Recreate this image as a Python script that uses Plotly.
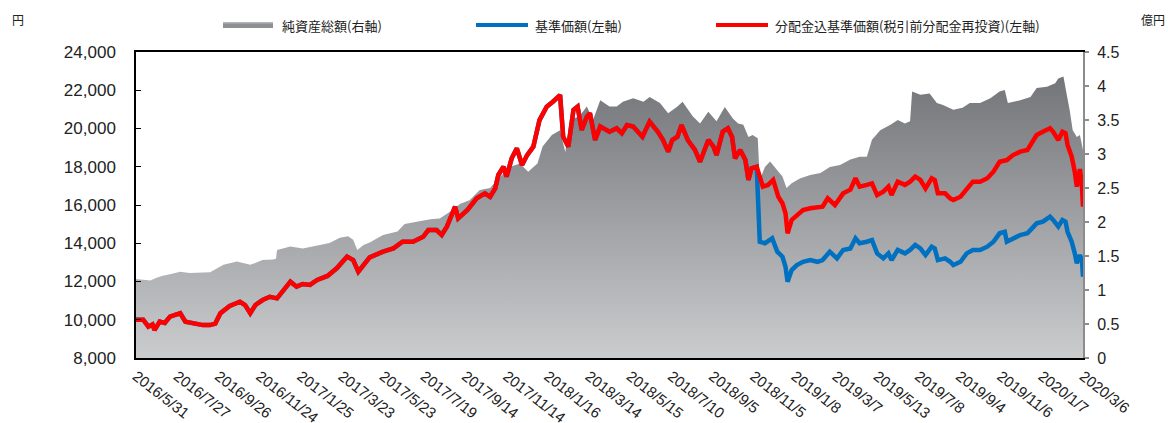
import plotly.graph_objects as go

# ---- data (x = business-day index from 2016/5/31) ----
tick_labels = ["2016/5/31", "2016/7/27", "2016/9/26", "2016/11/24", "2017/1/25", "2017/3/23",
               "2017/5/23", "2017/7/19", "2017/9/14", "2017/11/14", "2018/1/16", "2018/3/14",
               "2018/5/15", "2018/7/10", "2018/9/5", "2018/11/5", "2019/1/8", "2019/3/7",
               "2019/5/13", "2019/7/8", "2019/9/4", "2019/11/6", "2020/1/7", "2020/3/6"]
label_step = 40
minor_tick_step = 30
last_day = 920

# 純資産総額 (億円, right axis)
nav_day = [0, 7, 14, 20, 26, 33, 43, 52, 59, 72, 85, 98, 111, 123, 133, 136, 137, 150, 162, 176,
           188, 198, 206, 211, 215, 221, 227, 240, 254, 261, 273, 286, 295, 305, 315, 324, 334,
           344, 354, 363, 373, 381, 390, 395, 404, 412, 417, 422, 431, 438, 444, 451, 460, 467,
           473, 483, 493, 499, 509, 517, 526, 531, 541, 548, 556, 564, 572, 580, 585, 590, 595,
           599, 604, 606, 611, 616, 623, 628, 632, 637, 645, 655, 665, 674, 684, 694, 703, 710,
           715, 723, 733, 740, 747, 752, 754, 762, 771, 778, 784, 794, 803, 810, 820, 830, 839,
           844, 847, 859, 869, 875, 885, 893, 896, 901, 904, 907, 910, 914, 917, 920]
nav_value = [1.16, 1.15, 1.14, 1.18, 1.21, 1.23, 1.27, 1.25, 1.25, 1.26, 1.37, 1.42, 1.37, 1.44,
             1.45, 1.46, 1.59, 1.64, 1.61, 1.65, 1.69, 1.77, 1.79, 1.74, 1.59, 1.66, 1.70, 1.81,
             1.86, 1.97, 2.00, 2.04, 2.05, 2.15, 2.27, 2.32, 2.47, 2.50, 2.67, 2.81, 2.86, 2.74,
             2.86, 3.11, 3.28, 3.35, 3.03, 3.50, 3.56, 3.70, 3.50, 3.79, 3.70, 3.70, 3.77, 3.82,
             3.77, 3.84, 3.75, 3.60, 3.70, 3.77, 3.55, 3.45, 3.62, 3.48, 3.69, 3.52, 3.45, 3.43,
             3.25, 3.28, 3.23, 2.62, 2.81, 2.89, 2.76, 2.67, 2.50, 2.57, 2.64, 2.69, 2.72, 2.81,
             2.84, 2.92, 2.96, 2.96, 3.21, 3.35, 3.43, 3.50, 3.45, 3.48, 3.92, 3.87, 3.89, 3.75,
             3.72, 3.65, 3.68, 3.75, 3.75, 3.82, 3.92, 3.94, 3.75, 3.79, 3.84, 3.97, 3.99, 4.04,
             4.11, 4.14, 3.89, 3.65, 3.35, 3.25, 3.28, 3.06]

# 分配金込基準価額 (円, left axis)
reinv_day = [0, 7, 12, 16, 18, 23, 28, 33, 38, 43, 48, 52, 59, 65, 72, 77, 82, 91, 101, 106, 111,
             116, 123, 130, 137, 150, 156, 162, 169, 176, 186, 195, 205, 211, 216, 221, 227, 240,
             250, 259, 269, 279, 284, 292, 297, 302, 310, 313, 322, 331, 339, 344, 349, 352, 357,
             360, 365, 370, 375, 380, 386, 392, 399, 405, 412, 415, 420, 425, 429, 433, 438, 441,
             446, 451, 460, 467, 472, 477, 483, 492, 499, 507, 512, 517, 521, 526, 530, 536, 543,
             548, 553, 556, 561, 564, 570, 575, 579, 582, 587, 592, 595, 598, 603, 606, 609, 614,
             619, 624, 628, 631, 633, 637, 642, 648, 655, 662, 667, 672, 679, 687, 694, 699, 703,
             710, 715, 720, 726, 731, 734, 740, 747, 752, 757, 762, 767, 773, 776, 779, 786, 791,
             794, 801, 807, 813, 820, 827, 833, 839, 846, 852, 859, 866, 870, 875, 881, 888, 891,
             896, 900, 903, 905, 909, 912, 914, 917, 919, 920]
reinv_value = [10000, 10000, 9640, 9750, 9460, 9900, 9830, 10160, 10250, 10340, 9900, 9850, 9810,
               9720, 9720, 9800, 10340, 10720, 10940, 10770, 10340, 10770, 11030, 11200, 11120,
               11990, 11730, 11870, 11820, 12080, 12290, 12690, 13300, 13120, 12510, 12860, 13260,
               13560, 13730, 14080, 14080, 14340, 14690, 14690, 14430, 14870, 15910, 15300, 15740,
               16350, 16610, 16430, 16870, 17570, 18000, 17480, 18440, 18960, 18090, 18610, 19050,
               20440, 21140, 21400, 21750, 19570, 19050, 20970, 21140, 19920, 20620, 20800, 19400,
               20100, 19830, 20010, 19750, 20180, 20100, 19570, 20360, 19830, 19400, 18790, 19400,
               19570, 20180, 19400, 18880, 18260, 18960, 19400, 19050, 18610, 19830, 20010, 19570,
               18440, 18880, 18350, 17310, 17920, 18000, 17400, 16960, 17050, 17310, 16430, 16090,
               15570, 14520, 15220, 15480, 15740, 15830, 15910, 15910, 16350, 16000, 16610, 16800,
               17400, 16960, 17050, 17130, 16520, 16700, 16960, 16520, 17220, 17050, 17220, 17480,
               17310, 16870, 17400, 17310, 16610, 16610, 16350, 16260, 16430, 16870, 17220, 17220,
               17400, 17740, 18260, 18350, 18610, 18790, 18880, 19230, 19660, 19830, 20010, 19830,
               19400, 19830, 19750, 19140, 18530, 17740, 16960, 17880, 16960, 15910]

# 基準価額 (円, left axis): equal to the reinvested series until the first distribution
split_day = 603
nav_price_day_after = [606, 611, 618, 623, 628, 631, 633, 637, 642, 648, 655, 662, 667, 674, 681,
                       687, 694, 699, 703, 710, 715, 720, 726, 731, 734, 740, 747, 752, 757, 762,
                       767, 773, 776, 779, 786, 791, 794, 801, 807, 813, 820, 827, 833, 839, 844,
                       846, 852, 859, 866, 870, 875, 881, 888, 891, 896, 900, 903, 905, 909, 912,
                       914, 917, 919, 920]
nav_price_value_after = [14080, 14000, 14260, 13560, 13300, 12770, 11990, 12600, 12860, 13030,
                         13120, 13030, 13120, 13560, 13210, 13650, 13730, 14260, 14000, 14080,
                         14170, 13470, 13210, 13470, 13120, 13650, 13470, 13650, 13910, 13730,
                         13380, 13820, 13730, 13120, 13210, 13030, 12860, 13030, 13470, 13650,
                         13650, 13820, 14080, 14520, 14600, 14080, 14260, 14430, 14520, 14780,
                         15040, 15130, 15390, 15220, 14870, 15220, 15130, 14600, 14080, 13470,
                         12950, 13380, 13120, 12250]

price_day = [d for d in reinv_day if d <= split_day] + nav_price_day_after
price_value = [v for d, v in zip(reinv_day, reinv_value) if d <= split_day] + nav_price_value_after

# ---- layout geometry (pixels) ----
W, H = 1168, 423
PLOT_L, PLOT_R, PLOT_T, PLOT_B = 136, 1083, 52, 358
ML, MT, MR, MB = PLOT_L, PLOT_T, W - PLOT_R, H - PLOT_B
PW, PH = PLOT_R - PLOT_L, PLOT_B - PLOT_T


def px_x(p):
    return (p - PLOT_L) / PW


def px_y(p):
    return (PLOT_B - p) / PH


fig = go.Figure()

fig.add_trace(go.Scatter(
    x=nav_day, y=nav_value, yaxis="y", xaxis="x", mode="lines",
    line=dict(width=0, color="#8a8b8e"), fill="tozeroy",
    fillgradient=dict(type="vertical", colorscale=[[0, "#cbccce"], [1, "#6c6d71"]],
                      start=0, stop=4.5),
    showlegend=False, hoverinfo="skip", name="純資産総額(右軸)"))

fig.add_trace(go.Scatter(
    x=price_day, y=price_value, yaxis="y2", mode="lines",
    line=dict(width=4.5, color="#0070c0"), showlegend=False, name="基準価額(左軸)"))

fig.add_trace(go.Scatter(
    x=reinv_day, y=reinv_value, yaxis="y2", mode="lines",
    line=dict(width=4.5, color="#ff0000"), showlegend=False,
    name="分配金込基準価額(税引前分配金再投資)(左軸)"))

num_family = "Liberation Sans, Arial, sans-serif"

fig.update_layout(
    width=W, height=H,
    margin=dict(l=ML, r=MR, t=MT, b=MB, autoexpand=False),
    paper_bgcolor="white", plot_bgcolor="white",
    showlegend=False,
    xaxis=dict(
        range=[0, last_day], tickmode="array", automargin=False,
        tickvals=[i * label_step for i in range(len(tick_labels))],
        ticktext=tick_labels, tickangle=38, ticks="",
        tickfont=dict(family=num_family, size=15, color="#222222"),
        ticklabelstandoff=2,
        showline=True, linecolor="black", linewidth=1.5, mirror=True,
        showgrid=False, zeroline=False),
    xaxis2=dict(
        overlaying="x", anchor="y", side="bottom", range=[0, last_day], automargin=False,
        tickmode="array", tickvals=list(range(0, last_day + 1, minor_tick_step)),
        ticks="inside", ticklen=5, tickwidth=1, tickcolor="black",
        showticklabels=False, showline=False, showgrid=False, zeroline=False),
    yaxis=dict(
        side="right", range=[0, 4.5], dtick=0.5, tick0=0, automargin=False,
        ticks="outside", ticklen=4, tickcolor="#8c8c8c", tickwidth=1.5,
        showline=True, linecolor="#8c8c8c", linewidth=2,
        tickfont=dict(family=num_family, size=16, color="#222222"), ticklabelstandoff=5,
        showgrid=False, zeroline=False),
    yaxis2=dict(
        side="left", overlaying="y", anchor="x", range=[8000, 24000], dtick=2000, tick0=8000,
        automargin=False,
        tickformat=",d", ticks="inside", ticklen=5, tickcolor="black", tickwidth=1,
        showline=True, linecolor="black", linewidth=1.5,
        tickfont=dict(family=num_family, size=17, color="#222222"), ticklabelstandoff=15,
        showgrid=False, zeroline=False),
)

# ---- custom legend and unit labels ----
legend_y = 25
shapes = [
    dict(type="rect", xref="paper", yref="paper",
         x0=px_x(223), x1=px_x(273), y0=px_y(28), y1=px_y(22),
         fillcolor="#8f9093", line=dict(width=0)),
    dict(type="rect", xref="paper", yref="paper",
         x0=px_x(223), x1=px_x(273), y0=px_y(23.5), y1=px_y(22),
         fillcolor="#b4b5b7", line=dict(width=0)),
    dict(type="line", xref="paper", yref="paper",
         x0=px_x(476), x1=px_x(528), y0=px_y(legend_y), y1=px_y(legend_y),
         line=dict(color="#0070c0", width=4)),
    dict(type="line", xref="paper", yref="paper",
         x0=px_x(716), x1=px_x(768), y0=px_y(legend_y), y1=px_y(legend_y),
         line=dict(color="#ff0000", width=4)),
]
fig.update_layout(shapes=shapes)

jp_font = dict(family="Noto Sans CJK JP", size=13, color="#222222")
annotations = [
    dict(text="純資産総額(右軸)", x=px_x(280), y=px_y(legend_y)),
    dict(text="基準価額(左軸)", x=px_x(533), y=px_y(legend_y)),
    dict(text="分配金込基準価額(税引前分配金再投資)(左軸)", x=px_x(773), y=px_y(legend_y)),
]
for a in annotations:
    fig.add_annotation(xref="paper", yref="paper", xanchor="left", yanchor="middle",
                       showarrow=False, font=jp_font, **a)
fig.add_annotation(text="円", xref="paper", yref="paper", x=px_x(18), y=px_y(20),
                   xanchor="center", yanchor="middle", showarrow=False,
                   font=dict(family="Noto Sans CJK JP", size=12, color="#222222"))
fig.add_annotation(text="億円", xref="paper", yref="paper", x=px_x(1153), y=px_y(20),
                   xanchor="center", yanchor="middle", showarrow=False,
                   font=dict(family="Noto Sans CJK JP", size=12, color="#222222"))

# the page body has a default 8px margin; remove it so the figure fills the window exactly
fig.write_html("out.html", config={"displayModeBar": False},
               post_script="document.body.style.margin='0';")
